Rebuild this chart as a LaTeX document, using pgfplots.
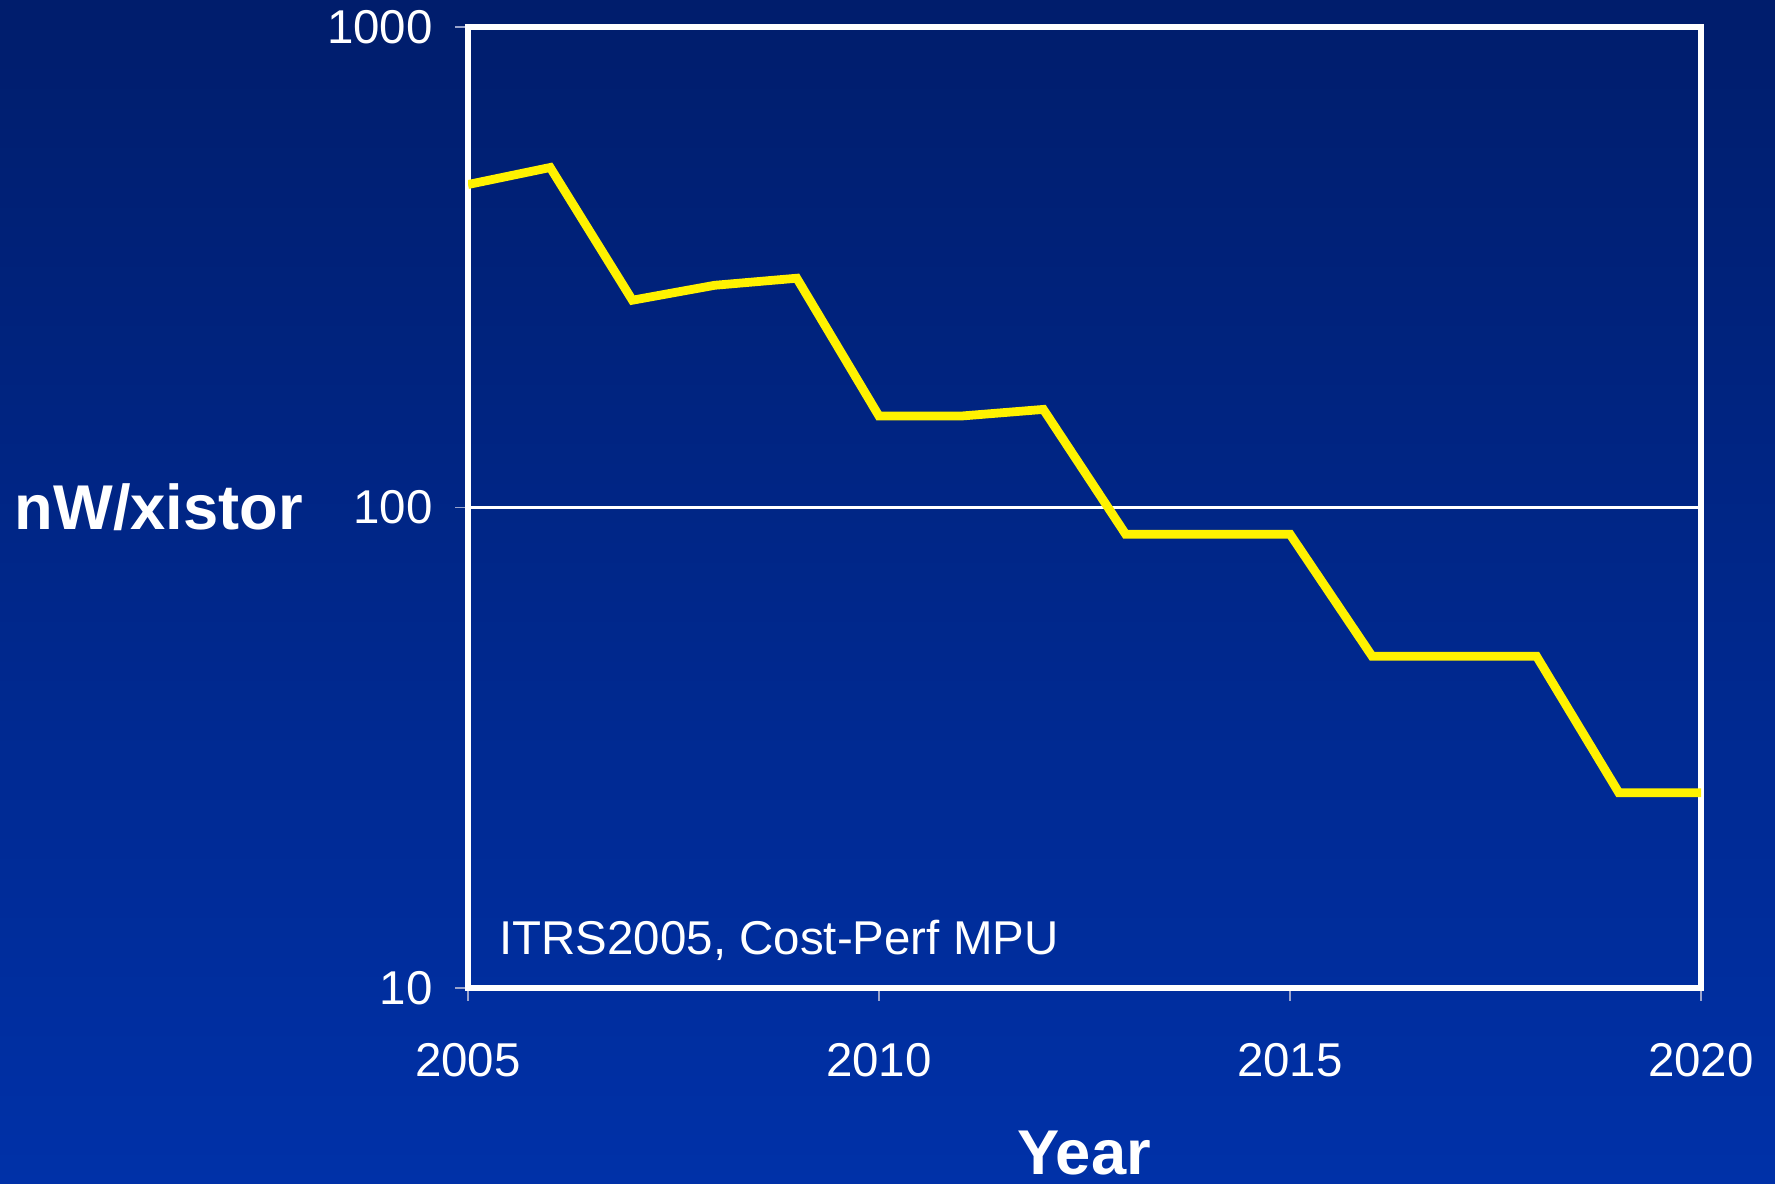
\documentclass[border=0pt]{standalone}
\usepackage{pgfplots}
\pgfplotsset{compat=1.18}
\usepackage{fontspec}
\setmainfont{Liberation Sans}
\definecolor{bgtop}{HTML}{001D6C}
\definecolor{bgbot}{HTML}{0031A8}
\definecolor{tickgray}{HTML}{9AA4CC}

\begin{document}
\begin{tikzpicture}
\shade[top color=bgtop, bottom color=bgbot] (0,0) rectangle (177.5mm,118.4mm);
\useasboundingbox (0,0) rectangle (177.5mm,118.4mm);
\begin{axis}[
  at={(46.8mm,19.6mm)}, anchor=south west,
  scale only axis, width=123.3mm, height=96.1mm,
  ymode=log, xmin=2005, xmax=2020, ymin=10, ymax=1000,
  xtick={2005,2010,2015,2020}, xticklabels={2005,2010,2015,2020},
  ytick={10,100,1000}, yticklabels={10,100,1000},
  yminorticks=false,
  tick align=outside, major tick length=1.3mm,
  xtick pos=bottom, ytick pos=left,
  tick style={tickgray, line width=0.5pt},
  axis line style={white, line width=1.5pt},
  ymajorgrids, grid style={white, line width=0.6pt},
  ticklabel style={text=white, font=\fontsize{13.5}{16}\selectfont},
  xticklabel style={yshift=-3.0mm},
  yticklabel style={xshift=-1mm},
]
\addplot[yellow, line width=2.5pt, line join=miter] coordinates {
  (2005,470) (2006,510) (2007,270) (2008,290) (2009,300)
  (2010,155) (2011,155) (2012,160) (2013,88) (2014,88)
  (2015,88) (2016,49) (2017,49) (2018,49) (2019,25.5) (2020,25.5)
};
\node[anchor=base west, text=white, font=\fontsize{13.5}{16}\selectfont, inner sep=0pt]
  at (axis description cs:0.025,0.035) {ITRS2005, Cost-Perf MPU};
\end{axis}
\node[anchor=base west, text=white, inner sep=0pt, font=\fontsize{18}{21}\selectfont\bfseries]
  at (1.4mm,65.4mm) {nW/xistor};
\node[anchor=base, text=white, inner sep=0pt, font=\fontsize{18}{21}\selectfont\bfseries]
  at (108.4mm,0.9mm) {Year};
\end{tikzpicture}
\end{document}
